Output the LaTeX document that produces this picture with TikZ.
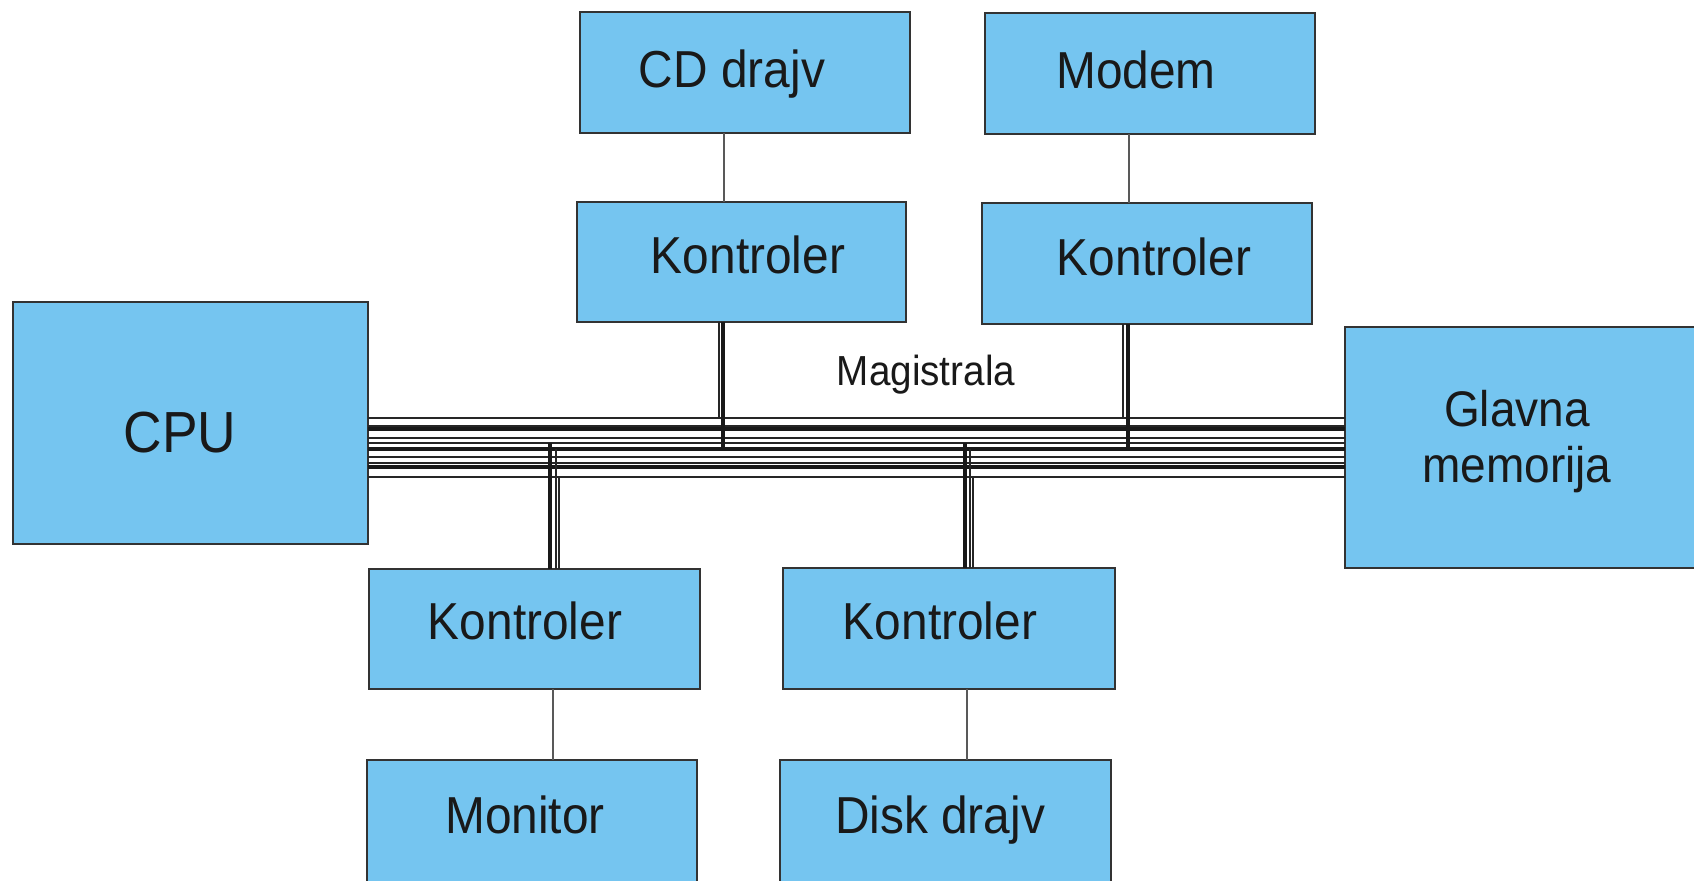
\documentclass[tikz,border=0pt]{standalone}
\usepackage{fontspec}
\setmainfont{Liberation Sans}[FakeStretch=0.92]
\definecolor{boxblue}{RGB}{117,197,240}
\begin{document}
\begin{tikzpicture}[x=0.5pt,y=-0.5pt,
  box/.style 2 args={draw=black!80, line width=0.6pt, fill=boxblue, inner sep=0pt, outer sep=0pt,
    minimum width=#1*0.5pt, minimum height=#2*0.5pt},
  lbl/.style={anchor=base, inner sep=0pt, text=black!90, font=\fontsize{26pt}{30pt}\selectfont},
  busthin/.style={draw=black!85, line width=0.65pt},
  busthick/.style={draw=black!90, line width=1.8pt},
  link/.style={draw=black!65, line width=0.6pt}]
\useasboundingbox (0,0) rectangle (1694,881);
\clip (0,0) rectangle (1694,881);
% boxes
\node[box={330}{121}] (cd) at (745,72.5) {};
\node[box={330}{121}] (modem) at (1150,73.5) {};
\node[box={329}{120}] (kTL) at (741.5,262) {};
\node[box={330}{121}] (kTR) at (1147,263.5) {};
\node[box={355}{242}] (cpu) at (190.5,423) {};
\node[box={365}{241}] (mem) at (1527.5,447.5) {};
\node[box={331}{120}] (kBL) at (534.5,629) {};
\node[box={332}{121}] (kBR) at (949,628.5) {};
\node[box={330}{122}] (mon) at (532,821) {};
\node[box={331}{122}] (disk) at (945.5,821) {};
% texts
\node[lbl] (tcd) at (732,88) {CD drajv};
\node[lbl] (tmodem) at (1136,89) {Modem};
\node[lbl] (tkTL) at (748,274) {Kontroler};
\node[lbl] (tkTR) at (1154,276) {Kontroler};
\node[lbl, font=\fontsize{29pt}{33pt}\selectfont] (tcpu) at (180,453) {CPU};
\node[lbl, font=\fontsize{21pt}{24pt}\selectfont] (tmag) at (926,386) {Magistrala};
\node[lbl] (tkBL) at (525,640) {Kontroler};
\node[lbl] (tkBR) at (940,640) {Kontroler};
\node[lbl] (tmon) at (525,834) {Monitor};
\node[lbl] (tdisk) at (940,834) {Disk drajv};
\node[lbl, align=center, font=\fontsize{25pt}{28pt}\selectfont] (tmem) at (1517,483) {Glavna\\memorija};
% bus line levels
\coordinate (b1) at (0,418);
\coordinate (b2) at (0,426);
\coordinate (b3) at (0,429);
\coordinate (b4) at (0,438);
\coordinate (b5) at (0,443);
\coordinate (b6) at (0,449);
\coordinate (b7) at (0,457);
\coordinate (b8) at (0,463);
\coordinate (b9) at (0,467);
\coordinate (b10) at (0,477);
\foreach \c in {b1,b2,b4,b5,b7,b8,b10}
  \draw[busthin] (cpu.east |- \c) -- (mem.west |- \c);
\foreach \c in {b3,b6,b9}
  \draw[busthick] (cpu.east |- \c) -- (mem.west |- \c);
% controller to bus
\draw[busthick] ([xshift=-9.25pt]kTL.south) -- ([xshift=-9.25pt]kTL.south |- b6);
\draw[busthin] ([xshift=-11.25pt]kTL.south) -- ([xshift=-11.25pt]kTL.south |- b1);
\draw[busthick] ([xshift=-9.5pt]kTR.south) -- ([xshift=-9.5pt]kTR.south |- b6);
\draw[busthin] ([xshift=-12pt]kTR.south) -- ([xshift=-12pt]kTR.south |- b1);
\draw[busthick] ([xshift=7.75pt]kBL.north) -- ([xshift=7.75pt]kBL.north |- b5);
\draw[busthin] ([xshift=10.75pt]kBL.north) -- ([xshift=10.75pt]kBL.north |- b6);
\draw[busthin] ([xshift=12.25pt]kBL.north) -- ([xshift=12.25pt]kBL.north |- b10);
\draw[busthick] ([xshift=8pt]kBR.north) -- ([xshift=8pt]kBR.north |- b5);
\draw[busthin] ([xshift=10.5pt]kBR.north) -- ([xshift=10.5pt]kBR.north |- b6);
\draw[busthin] ([xshift=12pt]kBR.north) -- ([xshift=12pt]kBR.north |- b10);
% device to controller
\draw[link] ([xshift=-10.5pt]cd.south) -- ([xshift=-10.5pt]cd.south |- kTL.north);
\draw[link] ([xshift=-10.5pt]modem.south) -- ([xshift=-10.5pt]modem.south |- kTR.north);
\draw[link] ([xshift=9.25pt]kBL.south) -- ([xshift=9.25pt]kBL.south |- mon.north);
\draw[link] ([xshift=9pt]kBR.south) -- ([xshift=9pt]kBR.south |- disk.north);
\end{tikzpicture}
\end{document}
